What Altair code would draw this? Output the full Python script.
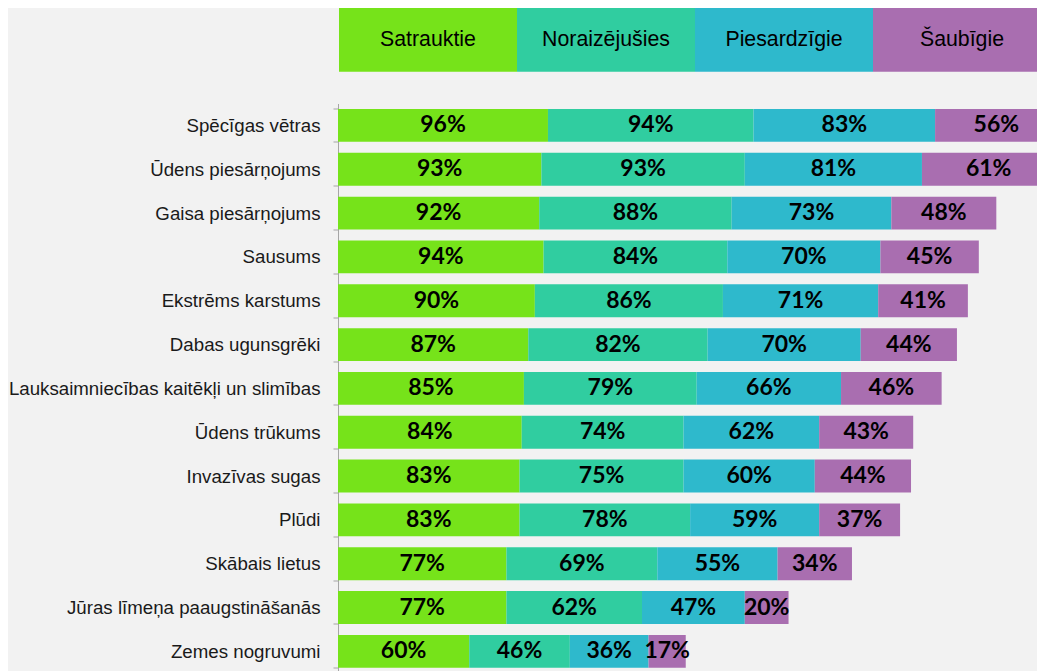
import altair as alt
import pandas as pd

categories = [
    "Spēcīgas vētras",
    "Ūdens piesārņojums",
    "Gaisa piesārņojums",
    "Sausums",
    "Ekstrēms karstums",
    "Dabas ugunsgrēki",
    "Lauksaimniecības kaitēkļi un slimības",
    "Ūdens trūkums",
    "Invazīvas sugas",
    "Plūdi",
    "Skābais lietus",
    "Jūras līmeņa paaugstināšanās",
    "Zemes nogruvumi",
]
series = ["Satrauktie", "Noraizējušies", "Piesardzīgie", "Šaubīgie"]
satrauktie = [96, 93, 92, 94, 90, 87, 85, 84, 83, 83, 77, 77, 60]
noraizejusies = [94, 93, 88, 84, 86, 82, 79, 74, 75, 78, 69, 62, 46]
piesardzigie = [83, 81, 73, 70, 71, 70, 66, 62, 60, 59, 55, 47, 36]
saubigie = [56, 61, 48, 45, 41, 44, 46, 43, 44, 37, 34, 20, 17]
colors = ["#76E31A", "#30CDA0", "#2EB9CC", "#A96EB0"]

rows = []
for s_i, (name, vals) in enumerate(zip(series, [satrauktie, noraizejusies, piesardzigie, saubigie])):
    for c, v in zip(categories, vals):
        rows.append({"category": c, "series": name, "order": s_i, "value": v})
df = pd.DataFrame(rows)
legend_df = pd.DataFrame({"series": series})

color = alt.Color("series:N", scale=alt.Scale(domain=series, range=colors), legend=None)

base = alt.Chart(df).transform_stack(
    stack="value",
    groupby=["category"],
    sort=[alt.SortField("order", order="ascending")],
    as_=["x0", "x1"],
).transform_calculate(
    mid="(datum.x0 + datum.x1) / 2",
    label="datum.value + '%'",
)

y = alt.Y(
    "category:N",
    sort=categories,
    title=None,
    scale=alt.Scale(paddingInner=0.25, paddingOuter=0.125),
    axis=alt.Axis(
        tickBand="extent",
        domainColor="#a6a6a6",
        tickColor="#a6a6a6",
        tickSize=5,
        labelPadding=13,
        labelFont="Liberation Sans",
        labelFontSize=18.7,
        labelColor="#1a1a1a",
        labelLimit=500,
        grid=False,
    ),
)
xscale = alt.Scale(domain=[0, 319.6], nice=False, zero=True)

bars = base.mark_bar(clip=True).encode(
    x=alt.X("x0:Q", scale=xscale, axis=None),
    x2="x1:Q",
    y=y,
    color=color,
)
labels = base.mark_text(
    font="Lato", fontWeight="bold", fontSize=23, color="black", baseline="middle"
).encode(
    x=alt.X("mid:Q", scale=xscale, axis=None),
    y=y,
    text="label:N",
)

lx = alt.X(
    "series:N",
    sort=series,
    scale=alt.Scale(range=[1, 713], paddingInner=0, paddingOuter=0),
    axis=None,
)
legend_rect = alt.Chart(legend_df).mark_rect().encode(
    x=lx, y=alt.value(-95.5), y2=alt.value(-31.8), color=color
)
legend_text = alt.Chart(legend_df).mark_text(
    font="Liberation Sans", fontSize=21.3, color="black", baseline="middle"
).encode(x=lx, y=alt.value(-63.6), text="series:N")

chart = (
    alt.layer(alt.layer(bars, labels), alt.layer(legend_rect, legend_text))
    .resolve_scale(x="independent")
    .properties(
        width=699,
        height=569.8,
        background="#f2f2f2",
        padding={"left": 330, "top": 95.5, "right": 0, "bottom": 0},
        autosize=alt.AutoSizeParams(type="none"),
    )
    .configure_view(stroke=None)
)

chart.save("out.html", embed_options={"renderer": "svg", "actions": False})
